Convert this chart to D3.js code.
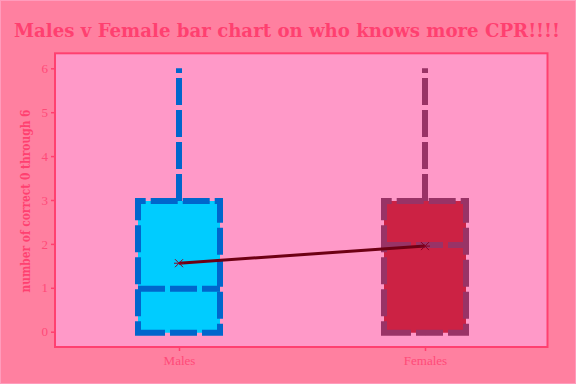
<!DOCTYPE html>
<html><head><meta charset="utf-8">
<script src="https://cdn.jsdelivr.net/npm/d3@7"></script>
<style>html,body{margin:0;padding:0;background:#ff80a0;}svg{display:block;}</style>
</head><body>
<svg id="c" width="576" height="384"></svg>
<script>
const categories = ["Males", "Females"];
const mins = [0, 0];
const q1s = [0, 0];
const medians = [1, 2];
const q3s = [3, 3];
const maxs = [6, 6];
const means = [1.56, 1.95];
const yTicks = [0, 1, 2, 3, 4, 5, 6];
const fills = ["#00ccff", "#cc2244"];
const strokes = ["#0066cc", "#993366"];

const svg = d3.select("#c");
const W = 576, H = 384;
svg.append("rect").attr("x",0.5).attr("y",0.5).attr("width",W-1).attr("height",H-1)
  .attr("fill","#ff80a0").attr("stroke","#ff9cbc").attr("stroke-width",1);

const px0 = 55, px1 = 547.5, py0 = 53.3, py1 = 347;
svg.append("rect").attr("x",px0).attr("y",py0).attr("width",px1-px0).attr("height",py1-py0)
  .attr("fill","#ff99c8");

const x = d3.scaleLinear().domain([0.5, 2.5]).range([56, 548]);
const y = d3.scaleLinear().domain([0, 6]).range([331.7, 68.3]);
const bw = 82;

const dash = "27,5";
categories.forEach((c, i) => {
  const cx = x(i + 1);
  const g = svg.append("g");
  g.append("line").attr("x1",cx).attr("x2",cx).attr("y1",y(q3s[i])+1).attr("y2",y(maxs[i]))
    .attr("stroke",strokes[i]).attr("stroke-width",6).attr("stroke-dasharray",dash);
  g.append("line").attr("x1",cx).attr("x2",cx).attr("y1",y(q1s[i])+1).attr("y2",y(mins[i])+1)
    .attr("stroke",strokes[i]).attr("stroke-width",6).attr("stroke-dasharray",dash);
  const l = cx - bw/2, r = cx + bw/2, b = y(q1s[i]) + 1, t = y(q3s[i]) + 1;
  g.append("path").attr("d",`M${l},${b}L${r},${b}L${r},${t}L${l},${t}Z`)
    .attr("fill",fills[i]).attr("stroke",strokes[i]).attr("stroke-width",6)
    .attr("stroke-dasharray",dash);
  g.append("line").attr("x1",l).attr("x2",r).attr("y1",y(medians[i])+1).attr("y2",y(medians[i])+1)
    .attr("stroke",strokes[i]).attr("stroke-width",6).attr("stroke-dasharray",dash);
});

const line = d3.line().x((d,i)=>x(i+1)).y(d=>y(d));
svg.append("path").attr("d", line(means)).attr("fill","none")
  .attr("stroke","#6e0014").attr("stroke-width",3);
means.forEach((m,i)=>{
  const cx = x(i+1), cy = y(m), s = 4;
  svg.append("path").attr("d",`M${cx-s},${cy-s}L${cx+s},${cy+s}M${cx-s},${cy+s}L${cx+s},${cy-s}M${cx-s-1},${cy}L${cx+s+1},${cy}`)
    .attr("stroke","#880022").attr("stroke-width",1).attr("fill","none");
});

svg.append("rect").attr("x",px0).attr("y",py0).attr("width",px1-px0).attr("height",py1-py0)
  .attr("fill","none").attr("stroke","#ff4070").attr("stroke-width",2);

const yAxis = d3.axisLeft(y).tickValues(yTicks).tickSize(4).tickPadding(3).tickFormat(d3.format("d"));
const ga = svg.append("g").attr("transform",`translate(${px0},0)`).call(yAxis);
ga.select(".domain").remove();
ga.selectAll(".tick line").attr("stroke","#ff4070").attr("stroke-width",1.5);
ga.selectAll(".tick text").attr("fill","#ff4a78").attr("font-family","Liberation Serif").attr("font-size",13);

const xAxis = d3.axisBottom(x).tickValues([1,2]).tickSize(4).tickPadding(5).tickFormat(d=>categories[d-1]);
const gx = svg.append("g").attr("transform",`translate(0,${py1})`).call(xAxis);
gx.select(".domain").remove();
gx.selectAll(".tick line").attr("stroke","#ff4070").attr("stroke-width",1.5);
gx.selectAll(".tick text").attr("fill","#ff4a78").attr("font-family","Liberation Serif").attr("font-size",13);

svg.append("text").attr("x",287).attr("y",36.5).attr("text-anchor","middle")
  .attr("font-family","DejaVu Serif").attr("font-weight","bold").attr("font-size",18)
  .attr("fill","#ff4070").attr("textLength",546).attr("lengthAdjust","spacingAndGlyphs")
  .text("Males v Female bar chart on who knows more CPR!!!!");

svg.append("text").attr("transform","translate(29.5,201) rotate(-90)").attr("text-anchor","middle")
  .attr("font-family","DejaVu Serif").attr("font-weight","bold").attr("font-size",12)
  .attr("fill","#ff4070").attr("textLength",183).attr("lengthAdjust","spacingAndGlyphs")
  .text("number of correct 0 through 6");
</script>
</body></html>
